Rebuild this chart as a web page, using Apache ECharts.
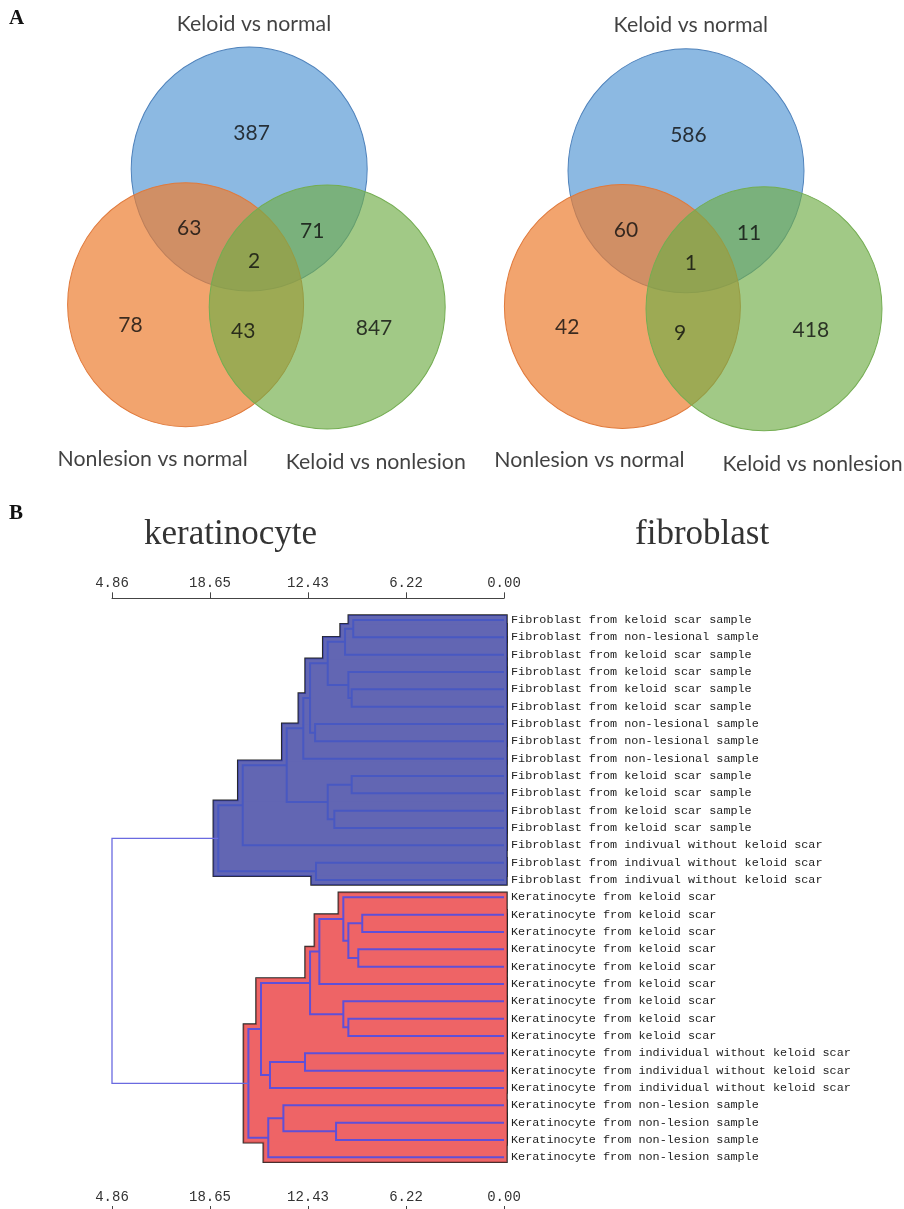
<!DOCTYPE html>
<html>
<head>
<meta charset="utf-8">
<script src="https://cdn.jsdelivr.net/npm/echarts@6/dist/echarts.min.js"></script>
<style>
html, body { margin: 0; padding: 0; background: #fff; }
#main { width: 904px; height: 1209px; }
</style>
</head>
<body>
<div id="main"></div>
<script>
// ---- panel A: venn counts ----
const setNames = ['Keloid vs normal', 'Nonlesion vs normal', 'Keloid vs nonlesion'];
// regions: K only, K&N, K&KN, all three, N only, N&KN, KN only
const leftCounts = [387, 63, 71, 2, 78, 43, 847];
const rightCounts = [586, 60, 11, 1, 42, 9, 418];

// ---- panel B: dendrogram ----
const leafLabels = [
    'Fibroblast from keloid scar sample',
    'Fibroblast from non-lesional sample',
    'Fibroblast from keloid scar sample',
    'Fibroblast from keloid scar sample',
    'Fibroblast from keloid scar sample',
    'Fibroblast from keloid scar sample',
    'Fibroblast from non-lesional sample',
    'Fibroblast from non-lesional sample',
    'Fibroblast from non-lesional sample',
    'Fibroblast from keloid scar sample',
    'Fibroblast from keloid scar sample',
    'Fibroblast from keloid scar sample',
    'Fibroblast from keloid scar sample',
    'Fibroblast from indivual without keloid scar',
    'Fibroblast from indivual without keloid scar',
    'Fibroblast from indivual without keloid scar',
    'Keratinocyte from keloid scar',
    'Keratinocyte from keloid scar',
    'Keratinocyte from keloid scar',
    'Keratinocyte from keloid scar',
    'Keratinocyte from keloid scar',
    'Keratinocyte from keloid scar',
    'Keratinocyte from keloid scar',
    'Keratinocyte from keloid scar',
    'Keratinocyte from keloid scar',
    'Keratinocyte from individual without keloid scar',
    'Keratinocyte from individual without keloid scar',
    'Keratinocyte from individual without keloid scar',
    'Keratinocyte from non-lesion sample',
    'Keratinocyte from non-lesion sample',
    'Keratinocyte from non-lesion sample',
    'Keratinocyte from non-lesion sample'
];
// linkage rows [childA, childB, height]; new node id = 32 + row index
const merges = [
    [0, 1, 9.56], [32, 2, 10.08], [4, 5, 9.66], [3, 34, 9.87], [33, 35, 11.18],
    [6, 7, 11.98], [36, 37, 12.30], [38, 8, 12.73], [9, 10, 9.66], [11, 12, 10.76],
    [40, 41, 11.18], [39, 42, 13.78], [43, 13, 16.57], [14, 15, 11.92], [44, 45, 18.12],
    [17, 18, 8.99], [19, 20, 9.24], [47, 48, 9.87], [16, 49, 10.19], [50, 21, 11.71],
    [23, 24, 9.87], [22, 52, 10.19], [51, 53, 12.30], [25, 26, 12.62], [55, 27, 14.84],
    [54, 56, 15.41], [29, 30, 10.65], [28, 58, 13.99], [59, 31, 14.95], [57, 60, 16.21],
    [46, 61, 24.86]
];
const axisTicks = [0, 6.215, 12.43, 18.645, 24.86];
const tickLabels = ['0.00', '6.22', '12.43', '18.65', '4.86'];

// ---- venn layout (units of circle radius) ----
const vennCenters = [[-0.04, 0.76], [-0.57, -0.37], [0.61, -0.39]];
const regionAnchors = [[-0.02, 1.06], [-0.54, 0.265], [0.485, 0.24], [0, -0.01], [-1.03, -0.545], [-0.09, -0.595], [1.0, -0.57]];
const setLabelAnchors = [[0, 1.97], [-0.845, -1.655], [1.015, -1.685]];
const circleFill = ['rgba(91,155,213,0.7)', 'rgba(237,125,49,0.7)', 'rgba(112,173,71,0.66)'];
const circleEdge = ['#4f82bb', '#e07a3c', '#74ad52'];

const vennFont = 'Lato, "Open Sans", sans-serif';
const monoFont = '"Liberation Mono", "DejaVu Sans Mono", monospace';
const serifFont = '"Liberation Serif", "DejaVu Serif", serif';

function vennSeries(gi, counts) {
    return [
        {
            type: 'scatter', xAxisIndex: gi, yAxisIndex: gi, silent: true, z: 1,
            symbol: 'circle', symbolSize: [236, 244],
            itemStyle: { opacity: 1 },
            data: vennCenters.map((c, i) => ({
                value: c,
                itemStyle: { color: circleFill[i], borderColor: circleEdge[i], borderWidth: 1, opacity: 1 }
            }))
        },
        {
            type: 'scatter', xAxisIndex: gi, yAxisIndex: gi, silent: true, z: 3,
            symbolSize: 1, itemStyle: { color: 'rgba(0,0,0,0)' },
            data: regionAnchors.map((p, i) => [p[0], p[1], counts[i]]),
            label: {
                show: true, position: 'inside', formatter: p => p.value[2],
                fontFamily: vennFont, fontSize: 21, color: '#0d0d0d'
            }
        },
        {
            type: 'scatter', xAxisIndex: gi, yAxisIndex: gi, silent: true, z: 3,
            symbolSize: 1, itemStyle: { color: 'rgba(0,0,0,0)' },
            data: setLabelAnchors.map((p, i) => ({ value: p, name: setNames[i] })),
            label: {
                show: true, position: 'inside', formatter: '{b}',
                fontFamily: vennFont, fontSize: 21.3, color: '#111'
            }
        }
    ];
}

// ---- dendrogram layout ----
const nLeaf = leafLabels.length;
const nodeH = [], nodeY = [], kids = [];
for (let i = 0; i < nLeaf; i++) { nodeH[i] = 0; nodeY[i] = i; }
merges.forEach((m, k) => {
    const id = nLeaf + k;
    nodeH[id] = m[2];
    nodeY[id] = (nodeY[m[0]] + nodeY[m[1]]) / 2;
    kids[id] = [m[0], m[1]];
});
const rootId = nLeaf + merges.length - 1;
const cluster = [];
function mark(id, c) {
    cluster[id] = c;
    if (kids[id]) { mark(kids[id][0], c); mark(kids[id][1], c); }
}
mark(kids[rootId][0], 0);
mark(kids[rootId][1], 1);
cluster[rootId] = 2;

const boxData = [], linkData = [];
merges.forEach((m, k) => {
    const id = nLeaf + k;
    const a = m[0], b = m[1];
    linkData.push([nodeH[a], nodeY[a], nodeH[id], nodeY[b], nodeH[b], cluster[id]]);
    if (id !== rootId) {
        boxData.push([nodeH[id], Math.min(nodeY[a], nodeY[b]), Math.max(nodeY[a], nodeY[b]), cluster[id]]);
    }
});

const boxFill = ['#6266b3', '#ee6466'];
const boxEdge = ['#3a42a6', '#b84a4a'];
const linkColor = ['#4858c2', '#5f4fd8', '#6a6ae0'];

function boxRenderer(layer) {
    return function (params, api) {
        const p1 = api.coord([api.value(0), api.value(1)]);
        const p2 = api.coord([0, api.value(2)]);
        const c = api.value(3);
        const pad = 4;
        const shape = {
            x: p1[0] - pad, y: p1[1] - pad,
            width: p2[0] - p1[0] + pad + 2, height: p2[1] - p1[1] + 2 * pad
        };
        let style;
        if (layer === 0) style = { fill: '#262626', stroke: '#262626', lineWidth: 3.5 };
        else if (layer === 1) style = { fill: boxFill[c], stroke: boxEdge[c], lineWidth: 1.6 };
        else style = { fill: boxFill[c] };
        return { type: 'rect', shape: shape, style: style };
    };
}

function linkRenderer(params, api) {
    const pts = [
        [api.value(0), api.value(1)], [api.value(2), api.value(1)],
        [api.value(2), api.value(3)], [api.value(4), api.value(3)]
    ].map(p => api.coord(p));
    const c = api.value(5);
    return {
        type: 'polyline', shape: { points: pts },
        style: { fill: null, stroke: linkColor[c], lineWidth: c === 2 ? 1.3 : 2 }
    };
}

function tickText(v) {
    const i = axisTicks.findIndex(t => Math.abs(t - v) < 0.01);
    return i < 0 ? '' : tickLabels[i];
}

const treeX = {
    gridIndex: 2, type: 'value', min: 0, max: 24.86, interval: 6.215, inverse: true,
    splitLine: { show: false }
};

const option = {
    animation: false,
    backgroundColor: '#fff',
    title: [
        { text: 'A', left: 9, top: 8, padding: 0, textStyle: { fontFamily: serifFont, fontWeight: 'bold', fontSize: 21, color: '#111' } },
        { text: 'B', left: 9, top: 503, padding: 0, textStyle: { fontFamily: serifFont, fontWeight: 'bold', fontSize: 21, color: '#111' } },
        { text: 'keratinocyte', left: 144, top: 517, padding: 0, textStyle: { fontFamily: serifFont, fontWeight: 'normal', fontSize: 35, color: '#333' } },
        { text: 'fibroblast', left: 635, top: 517, padding: 0, textStyle: { fontFamily: serifFont, fontWeight: 'normal', fontSize: 35, color: '#333' } }
    ],
    grid: [
        { left: 44, top: 8.3, width: 420, height: 474 },
        { left: 480.8, top: 10, width: 420, height: 474 },
        { left: 112, top: 611.33, width: 392, height: 554.67 }
    ],
    xAxis: [
        { gridIndex: 0, type: 'value', min: -1.75, max: 1.75, show: false },
        { gridIndex: 1, type: 'value', min: -1.75, max: 1.75, show: false },
        Object.assign({}, treeX, {
            position: 'top', offset: 13,
            axisLine: { onZero: false, lineStyle: { color: '#444', width: 1 } },
            axisTick: { length: 6, lineStyle: { color: '#444' } },
            axisLabel: { margin: 8, formatter: tickText, fontFamily: monoFont, fontSize: 14, color: '#333' }
        }),
        Object.assign({}, treeX, {
            position: 'bottom', offset: 46,
            axisLine: { show: false, onZero: false },
            axisTick: { inside: true, length: 6, lineStyle: { color: '#444' } },
            axisLabel: { inside: true, margin: 8, formatter: tickText, fontFamily: monoFont, fontSize: 14, color: '#333' }
        })
    ],
    yAxis: [
        { gridIndex: 0, type: 'value', min: -1.85, max: 2.1, show: false },
        { gridIndex: 1, type: 'value', min: -1.85, max: 2.1, show: false },
        {
            gridIndex: 2, type: 'category', data: leafLabels, inverse: true, position: 'right',
            axisLine: { show: false }, axisTick: { show: false },
            axisLabel: { interval: 0, margin: 7, fontFamily: monoFont, fontSize: 11.8, color: '#222' }
        },
        { gridIndex: 2, type: 'value', min: -0.5, max: 31.5, inverse: true, show: false }
    ],
    series: [
        ...vennSeries(0, leftCounts),
        ...vennSeries(1, rightCounts),
        { type: 'custom', xAxisIndex: 2, yAxisIndex: 3, silent: true, z: 2, clip: false, renderItem: boxRenderer(0), data: boxData },
        { type: 'custom', xAxisIndex: 2, yAxisIndex: 3, silent: true, z: 3, clip: false, renderItem: boxRenderer(1), data: boxData },
        { type: 'custom', xAxisIndex: 2, yAxisIndex: 3, silent: true, z: 4, clip: false, renderItem: boxRenderer(2), data: boxData },
        { type: 'custom', xAxisIndex: 2, yAxisIndex: 3, silent: true, z: 5, clip: false, renderItem: linkRenderer, data: linkData }
    ]
};

const chart = echarts.init(document.getElementById('main'));
chart.setOption(option);
</script>
</body>
</html>
